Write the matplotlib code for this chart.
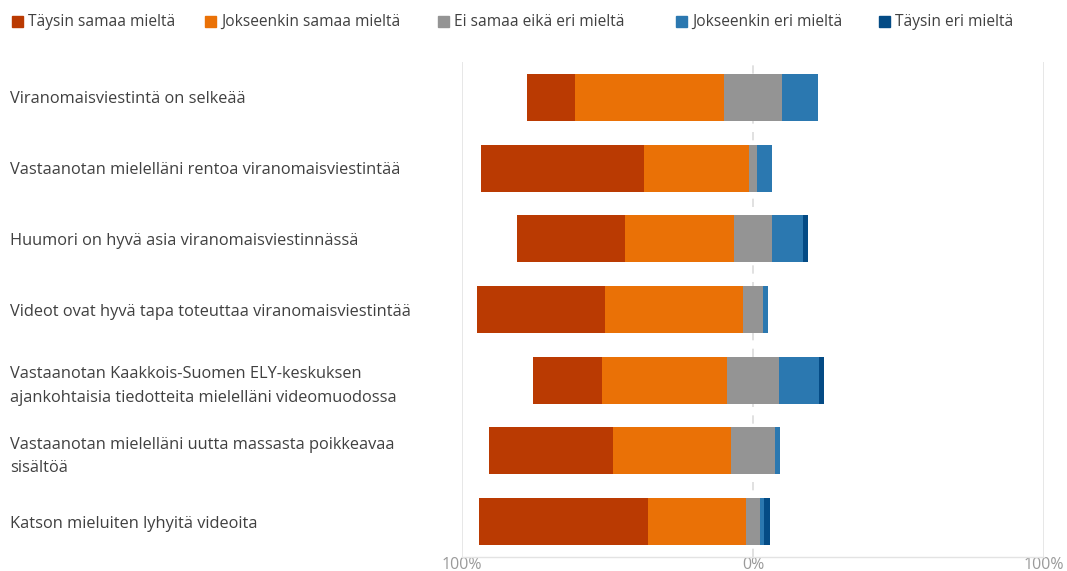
import matplotlib
matplotlib.use("Agg")
import matplotlib.pyplot as plt
from matplotlib.patches import Rectangle
import numpy as np

plt.rcParams['font.family'] = ['Open Sans', 'DejaVu Sans']

statements = [
    "Viranomaisviestintä on selkeää",
    "Vastaanotan mielelläni rentoa viranomaisviestintää",
    "Huumori on hyvä asia viranomaisviestinnässä",
    "Videot ovat hyvä tapa toteuttaa viranomaisviestintää",
    "Vastaanotan Kaakkois-Suomen ELY-keskuksen\najankohtaisia tiedotteita mielelläni videomuodossa",
    "Vastaanotan mielelläni uutta massasta poikkeavaa\nsisältöä",
    "Katson mieluiten lyhyitä videoita",
]

categories = [
    "Täysin samaa mieltä",
    "Jokseenkin samaa mieltä",
    "Ei samaa eikä eri mieltä",
    "Jokseenkin eri mieltä",
    "Täysin eri mieltä",
]

# percentages per statement
taysin_samaa = [16.7, 56.0, 37.3, 44.0, 23.7, 42.3, 57.9]
jokseenkin_samaa = [51.0, 36.0, 37.3, 47.4, 42.8, 40.8, 33.8]
neutraali = [20.2, 3.0, 13.2, 7.1, 18.1, 14.9, 4.9]
jokseenkin_eri = [12.1, 5.0, 10.7, 1.5, 13.6, 2.0, 1.5]
taysin_eri = [0.0, 0.0, 1.5, 0.0, 1.8, 0.0, 1.9]

colors = ["#BA3A02", "#EA7106", "#949494", "#2B78B0", "#044B85"]

xticks = [-100, 0, 100]
xticklabels = ["100%", "0%", "100%"]

W, H = 1067, 571
fig = plt.figure(figsize=(W / 100, H / 100), dpi=100)
ax = fig.add_axes([462 / W, 1 - 557 / H, (1044 - 462) / W, (557 - 62) / H])

series = np.array([taysin_samaa, jokseenkin_samaa, neutraali,
                   jokseenkin_eri, taysin_eri])
y = np.arange(len(statements))
# neutral segment is centred on zero
left = -(series[0] + series[1] + series[2] / 2)
for vals, col, name in zip(series, colors, categories):
    ax.barh(y, vals, left=left, height=0.665, color=col, label=name,
            linewidth=0, zorder=3)
    left = left + vals

ax.set_xlim(-100, 100)
ax.set_ylim(len(statements) - 0.5, -0.5)

# gridlines
ax.axvline(-100, color="#E3E3E3", lw=1.2, zorder=1)
ax.axvline(100, color="#E3E3E3", lw=1.2, zorder=1)
ax.axvline(0, color="#DCDCDC", lw=1.2, ls=(0, (5, 5)), zorder=1)

for s in ["top", "right", "left"]:
    ax.spines[s].set_visible(False)
ax.spines["bottom"].set_color("#E3E3E3")
ax.spines["bottom"].set_linewidth(1.0)

ax.set_xticks(xticks)
ax.set_xticklabels(xticklabels, color="#9A9A9A", fontsize=11.5)
ax.tick_params(axis="x", length=0, pad=0)

ax.set_yticks(y)
ax.set_yticklabels(statements, ha="left", color="#404040", fontsize=11.8,
                   linespacing=1.62)
ax.tick_params(axis="y", length=0, pad=(462 - 10) * 72 / 100)

# legend row
leg_x = [12, 205, 438, 676, 879]
for xp, col, name in zip(leg_x, colors, categories):
    fig.patches.append(Rectangle((xp / W, 1 - 27 / H), 11 / W, 11 / H,
                                 transform=fig.transFigure, color=col))
    fig.text((xp + 16) / W, 1 - 21.5 / H, name, color="#404040",
             fontsize=11.2, va="center", ha="left")

fig.savefig("out.png", dpi=100, facecolor="white")
